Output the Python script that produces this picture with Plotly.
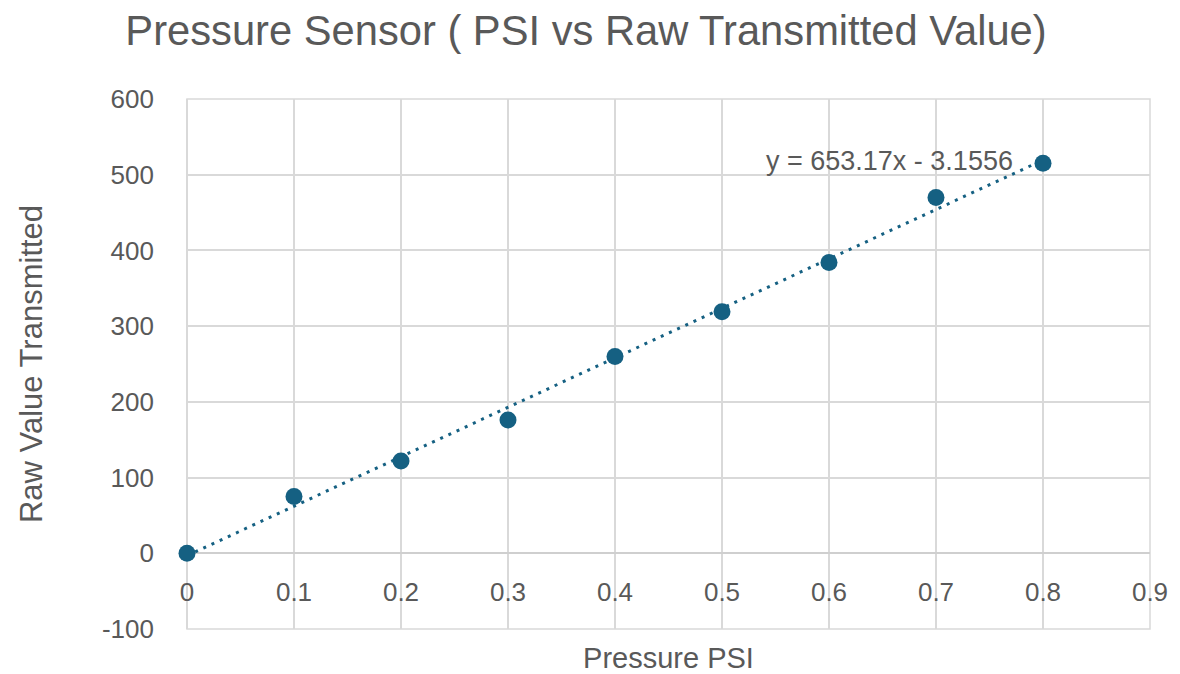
import plotly.graph_objects as go

# Data
pressure_psi = [0.0, 0.1, 0.2, 0.3, 0.4, 0.5, 0.6, 0.7, 0.8]
raw_value = [0, 75, 122, 176, 260, 319, 384, 470, 515]

# Linear trendline reported on the chart
trend_slope = 653.17
trend_intercept = -3.1556
trend_x = [pressure_psi[0], pressure_psi[-1]]
trend_y = [trend_slope * x + trend_intercept for x in trend_x]
trend_label = "y = 653.17x - 3.1556"

x_ticks = [0, 0.1, 0.2, 0.3, 0.4, 0.5, 0.6, 0.7, 0.8, 0.9]
x_tick_text = ["0", "0.1", "0.2", "0.3", "0.4", "0.5", "0.6", "0.7", "0.8", "0.9"]
y_ticks = [-100, 0, 100, 200, 300, 400, 500, 600]
y_tick_text = ["-100", "0", "100", "200", "300", "400", "500", "600"]

BLUE = "#156082"
TEXT = "#595959"
GRID = "#d9d9d9"
FONT = "Liberation Sans, Arial, sans-serif"

# page body has an 8px default margin; figure is sized to compensate
W, H = 1172, 666

fig = go.Figure()
fig.add_trace(go.Scatter(
    x=trend_x, y=trend_y, mode="lines",
    line=dict(color=BLUE, width=3, dash="3px,6px"),
    showlegend=False, hoverinfo="skip", cliponaxis=False,
))
fig.add_trace(go.Scatter(
    x=pressure_psi, y=raw_value, mode="markers",
    marker=dict(color=BLUE, size=17),
    showlegend=False, cliponaxis=False,
))

fig.add_annotation(
    x=0.657, y=518, xref="x", yref="y", text=trend_label,
    showarrow=False, font=dict(family=FONT, size=27, color=TEXT),
    xanchor="center", yanchor="middle",
)

# plot-area border (grid lines at the range ends)
fig.add_shape(type="rect", xref="paper", yref="paper", x0=0, x1=1, y0=0, y1=1,
              line=dict(color=GRID, width=1.5), layer="below")

fig.update_layout(
    width=W, height=H,
    margin=dict(l=179, r=30, t=91, b=45, autoexpand=False),
    paper_bgcolor="white", plot_bgcolor="white",
    font=dict(family=FONT, color=TEXT),
    title=dict(
        text="Pressure Sensor ( PSI vs Raw Transmitted Value)",
        x=(586 - 8) / W, xanchor="center", xref="container",
        y=1 - 22 / H, yanchor="middle", yref="container",
        font=dict(family=FONT, size=41.7, color=TEXT),
    ),
    xaxis=dict(
        range=[0, 0.9], tickvals=x_ticks, ticktext=x_tick_text,
        showgrid=True, gridcolor=GRID, gridwidth=1.5,
        zeroline=True, zerolinecolor=GRID, zerolinewidth=1.5,
        showline=False, ticks="", anchor="free", position=100 / 700,
        ticklabelstandoff=21, automargin=False,
        tickfont=dict(family=FONT, size=26, color=TEXT),
        title=dict(text="Pressure PSI", standoff=43,
                   font=dict(family=FONT, size=29, color=TEXT)),
    ),
    yaxis=dict(
        range=[-100, 600], tickvals=y_ticks, ticktext=y_tick_text,
        showgrid=True, gridcolor=GRID, gridwidth=1.5,
        zeroline=True, zerolinecolor="#cfcfcf", zerolinewidth=1.5,
        showline=False, ticks="", ticklabelstandoff=32, automargin=False,
        tickfont=dict(family=FONT, size=26, color=TEXT),
        title=dict(text="Raw Value Transmitted", standoff=50,
                   font=dict(family=FONT, size=31, color=TEXT)),
    ),
)

fig.write_html("out.html")
